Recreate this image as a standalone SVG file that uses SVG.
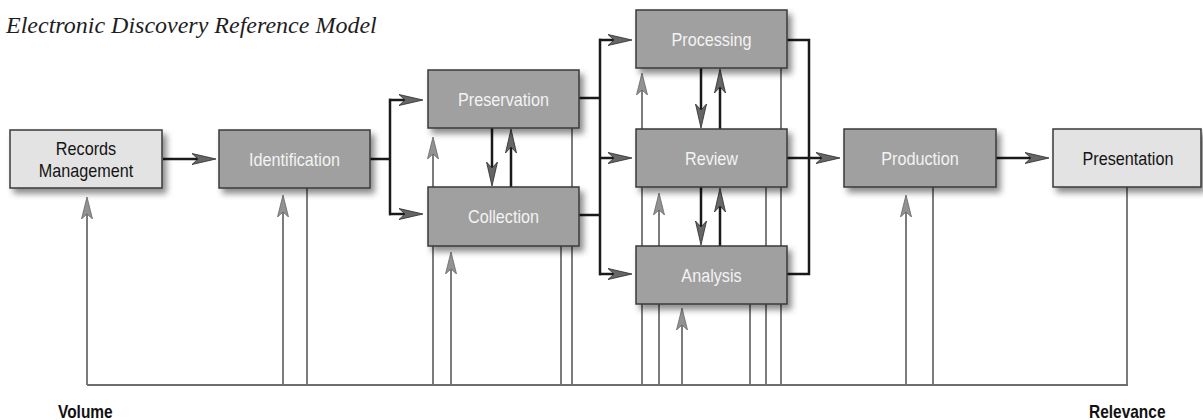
<svg xmlns="http://www.w3.org/2000/svg" width="1203" height="420" viewBox="0 0 1203 420">
  <style>
    .title { font-family: "Liberation Serif", "Times New Roman", serif; font-style: italic; font-size: 24px; fill: #1e1e1e; }
    .axis { font-family: "Liberation Sans", Arial, sans-serif; font-weight: bold; font-size: 18px; fill: #111; }
    .box { stroke: #3a3a3a; stroke-width: 1.5; filter: url(#shadow); }
    .dark { fill: #a0a0a0; }
    .light { fill: #e3e3e3; }
    .lbl { font-family: "Liberation Sans", Arial, sans-serif; font-size: 18px; text-anchor: middle; }
    .lbl-dark { fill: #f3f3f3; }
    .lbl-light { fill: #141414; }
    .flow { fill: none; stroke: #1a1a1a; stroke-width: 2.5; }
    .flow-h { fill: none; stroke: #1a1a1a; stroke-width: 2.5; marker-end: url(#headDark); }
    .flow-v { fill: none; stroke: #1a1a1a; stroke-width: 2.5; marker-end: url(#headDark); }
    .fb { fill: none; stroke: #6e6e6e; stroke-width: 1.8; }
    .fb-up { fill: none; stroke: #6e6e6e; stroke-width: 1.8; marker-end: url(#headGray); }
  </style>
  <defs>
    <filter id="shadow" x="-10%" y="-20%" width="130%" height="160%">
      <feDropShadow dx="4" dy="5" stdDeviation="3" flood-color="#000" flood-opacity="0.45"/>
    </filter>
    <!-- swept arrowhead, reference point at the notch so the line ends inside the head -->
    <marker id="headDark" markerUnits="userSpaceOnUse" markerWidth="26" markerHeight="14" viewBox="0 -7 26 14" refX="6" refY="0" orient="auto">
      <path d="M24,0 L0,-5.5 L6,0 L0,5.5 Z" fill="#666" stroke="#2a2a2a" stroke-width="0.8" stroke-linejoin="miter"/>
    </marker>
    <marker id="headGray" markerUnits="userSpaceOnUse" markerWidth="26" markerHeight="14" viewBox="0 -7 26 14" refX="5" refY="0" orient="auto">
      <path d="M22,0 L0,-5.5 L5,0 L0,5.5 Z" fill="#929292" stroke="#666" stroke-width="0.8"/>
    </marker>
  </defs>

  <rect width="1203" height="420" fill="#ffffff"/>

  <text class="title" x="6" y="33">Electronic Discovery Reference Model</text>

  <g id="connectors">
    <!-- feedback lines to the Volume / Relevance baseline -->
    <path class="fb" d="M87,385 H1128"/>
    <path class="fb-up" d="M87,385 V214"/>
    <path class="fb-up" d="M283,385 V212"/>
    <path class="fb" d="M307,188 V385"/>
    <path class="fb-up" d="M433,385 V154"/>
    <path class="fb-up" d="M451,385 V269"/>
    <path class="fb" d="M561,246 V385"/>
    <path class="fb" d="M572,128 V385"/>
    <path class="fb-up" d="M642,385 V90"/>
    <path class="fb-up" d="M659,385 V210"/>
    <path class="fb-up" d="M682,385 V325"/>
    <path class="fb" d="M750,304 V385"/>
    <path class="fb" d="M766,187 V385"/>
    <path class="fb" d="M781,68 V385"/>
    <path class="fb-up" d="M906,385 V212"/>
    <path class="fb" d="M933,187 V385"/>
    <path class="fb" d="M1127,187 V385"/>

    <!-- main flow -->
    <path class="flow-h" d="M163,159 H198"/>
    <path class="flow" d="M370,159 H390 M390,98.75 V215.25"/>
    <path class="flow-h" d="M389,100 H405"/>
    <path class="flow-h" d="M389,214 H405"/>
    <path class="flow" d="M579,98 H600 M579,215 H600 M600,38.75 V275.25"/>
    <path class="flow-h" d="M599,40 H614"/>
    <path class="flow-h" d="M599,158 H614"/>
    <path class="flow-h" d="M599,274 H614"/>
    <path class="flow" d="M787,40 H809 V274 H787"/>
    <path class="flow-h" d="M787,158 H822"/>
    <path class="flow-h" d="M996,158 H1031"/>

    <!-- two-way links between stacked stages -->
    <path class="flow-v" d="M492,128 V168"/>
    <path class="flow-v" d="M511,187 V147"/>
    <path class="flow-v" d="M701,68 V110"/>
    <path class="flow-v" d="M720,129 V87"/>
    <path class="flow-v" d="M701,187 V227"/>
    <path class="flow-v" d="M720,246 V206"/>
  </g>

  <g id="records-management">
    <rect class="box light" x="10" y="130" width="152" height="58"/>
    <text class="lbl lbl-light" transform="translate(86,155) scale(0.9,1)">Records</text>
    <text class="lbl lbl-light" transform="translate(86,177) scale(0.9,1)">Management</text>
  </g>
  <g id="identification">
    <rect class="box dark" x="219" y="130" width="151" height="58"/>
    <text class="lbl lbl-dark" transform="translate(294.5,165.5) scale(0.9,1)">Identification</text>
  </g>
  <g id="preservation">
    <rect class="box dark" x="428" y="70" width="151" height="58"/>
    <text class="lbl lbl-dark" transform="translate(503.5,105.5) scale(0.9,1)">Preservation</text>
  </g>
  <g id="collection">
    <rect class="box dark" x="428" y="187" width="151" height="59"/>
    <text class="lbl lbl-dark" transform="translate(503.5,222.5) scale(0.9,1)">Collection</text>
  </g>
  <g id="processing">
    <rect class="box dark" x="636" y="10" width="151" height="58"/>
    <text class="lbl lbl-dark" transform="translate(711.5,45.5) scale(0.9,1)">Processing</text>
  </g>
  <g id="review">
    <rect class="box dark" x="636" y="129" width="151" height="58"/>
    <text class="lbl lbl-dark" transform="translate(711.5,164.5) scale(0.9,1)">Review</text>
  </g>
  <g id="analysis">
    <rect class="box dark" x="636" y="246" width="151" height="58"/>
    <text class="lbl lbl-dark" transform="translate(711.5,281.5) scale(0.9,1)">Analysis</text>
  </g>
  <g id="production">
    <rect class="box dark" x="844" y="129" width="152" height="58"/>
    <text class="lbl lbl-dark" transform="translate(920,164.5) scale(0.9,1)">Production</text>
  </g>
  <g id="presentation">
    <rect class="box light" x="1053" y="129" width="148" height="58"/>
    <text class="lbl lbl-light" transform="translate(1128,164.5) scale(0.9,1)">Presentation</text>
  </g>

  <text class="axis" transform="translate(58,418) scale(0.86,1)">Volume</text>
  <text class="axis" transform="translate(1089,418) scale(0.86,1)">Relevance</text>
</svg>
